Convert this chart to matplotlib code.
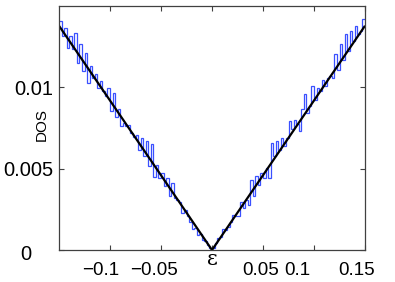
import numpy as np
import matplotlib
matplotlib.use("Agg")
import matplotlib.pyplot as plt

# ---- data ----
# histogram bin edges of energy eps
eps_min, eps_max, n_bins = -0.15, 0.15, 120
# DOS per bin, in units of 1e-4
dos_hist_e4 = [
    141.0, 131.5, 136.6, 124.3, 131.5, 123.3, 133.5, 115.0, 126.4, 110.3,
    121.2, 102.7, 113.0, 105.7, 108.0, 99.6, 103.7, 97.5, 94.5, 99.6,
    85.2, 96.3, 81.9, 86.8, 76.0, 78.2, 76.1, 77.0, 72.0, 69.5,
    71.0, 61.3, 69.0, 58.0, 67.0, 51.4, 65.4, 44.9, 52.5, 44.3,
    47.3, 39.1, 44.2, 33.3, 41.0, 31.9, 30.5, 29.8, 22.6, 24.5,
    21.0, 17.5, 13.0, 13.6, 9.3, 10.0, 6.0, 5.5, 3.0, 1.5,
    1.5, 4.0, 7.5, 7.8, 12.8, 12.0, 14.4, 17.0, 21.6, 21.0,
    20.6, 29.8, 26.0, 30.9, 27.8, 43.2, 32.9, 45.2, 40.0, 47.3,
    44.4, 50.6, 44.4, 66.0, 57.6, 66.9, 61.7, 69.0, 64.0, 69.0,
    79.2, 74.1, 80.2, 77.5, 73.0, 86.4, 95.7, 84.4, 88.5, 100.6,
    92.4, 99.6, 97.5, 104.7, 101.0, 106.0, 107.0, 105.7, 120.2, 110.9,
    126.4, 117.1, 132.5, 122.2, 134.6, 128.4, 137.7, 133.0, 134.6, 141.8,
]
# analytic linear DOS
line_eps = [-0.15, 0.0, 0.15]
line_slope = 0.0919

xtick_vals = [-0.1, -0.05, 0.0, 0.05, 0.1, 0.15]
xtick_labels = ["\u22120.1", "\u22120.05", "\u03b5", "0.05", "0.1", "0.15"]
ytick_vals = [0.0, 0.005, 0.01]
ytick_labels = ["", "0.005", "0.01"]
ylabel = "DOS"

# ---- figure ----
W, H, DPI = 395, 282, 100
fig = plt.figure(figsize=(W / DPI, H / DPI), dpi=DPI)
ax = fig.add_axes([59 / W, (H - 250) / H, 306 / W, 244 / H])

edges = np.linspace(eps_min, eps_max, n_bins + 1)
vals = np.array(dos_hist_e4) * 1e-4
ax.stairs(vals, edges, baseline=None, color="#3a50ff", lw=0.9)

le = np.array(line_eps)
ax.plot(le, line_slope * np.abs(le), color="black", lw=1.6, solid_capstyle="butt")

ax.set_xlim(eps_min, eps_max)
ax.set_ylim(0, 0.015)

font = "Liberation Sans"
ax.set_xticks(xtick_vals)
ax.set_xticklabels([""] * len(xtick_vals))
ax.set_yticks(ytick_vals)
ax.set_yticklabels(ytick_labels, fontsize=14.5, family=font)
ax.tick_params(direction="in", top=True, right=True, length=3.5, width=0.8,
               color="#404040", pad=4.3)

for s in ax.spines.values():
    s.set_color("#404040")
    s.set_linewidth(0.9)

# x tick labels placed individually (as in reference)
x_offsets_px = [-9, -7, 0, -2, -17, -8]
trans = ax.get_xaxis_transform()
for v, lab, dx in zip(xtick_vals, xtick_labels, x_offsets_px):
    if lab == "\u03b5":
        ax.annotate(lab, xy=(v, 0), xycoords=trans, xytext=(dx, -15),
                    textcoords="offset pixels", ha="center", va="baseline",
                    fontsize=15, family="DejaVu Serif", annotation_clip=False)
    else:
        ax.annotate(lab, xy=(v, 0), xycoords=trans, xytext=(dx, -25),
                    textcoords="offset pixels", ha="center", va="baseline",
                    fontsize=13.5, family=font, annotation_clip=False)

# the "0" y label, displaced left as in the reference
ax.annotate("0", xy=(0, 0), xycoords=("axes fraction", "data"),
            xytext=(-33, -3), textcoords="offset pixels", ha="center",
            va="center_baseline", fontsize=14.5, family=font, annotation_clip=False)

ax.set_ylabel(ylabel, fontsize=11, family=font)
ax.yaxis.set_label_coords(-0.033, 0.516)

fig.savefig("out.png", dpi=DPI)
